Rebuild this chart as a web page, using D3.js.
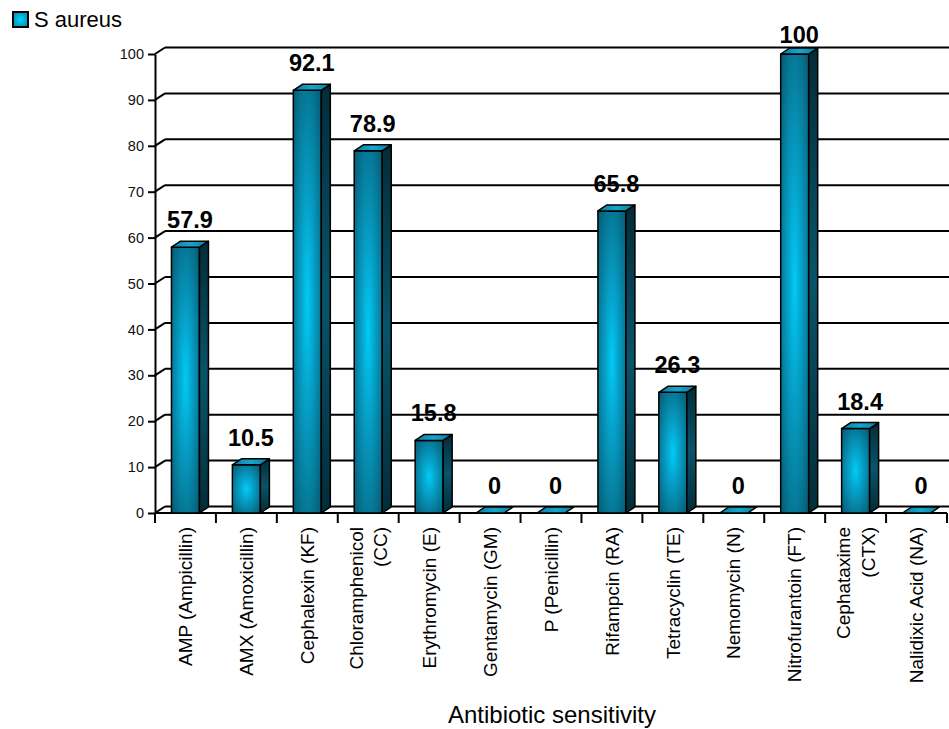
<!DOCTYPE html>
<html>
<head>
<meta charset="utf-8">
<script src="https://cdn.jsdelivr.net/npm/d3@7/dist/d3.min.js"></script>
<style>
  html, body { margin: 0; padding: 0; background: #fff; }
  svg { display: block; font-family: "Liberation Sans", Arial, sans-serif; }
</style>
</head>
<body>
<svg id="chart" width="949" height="729"></svg>
<script>
// Antibiotic sensitivity of S. aureus isolates (%)
const categories = [
  "AMP (Ampicillin)", "AMX (Amoxicillin)", "Cephalexin (KF)", "Chloramphenicol\n(CC)",
  "Erythromycin (E)", "Gentamycin (GM)", "P (Penicillin)", "Rifampcin (RA)",
  "Tetracyclin (TE)", "Nemomycin (N)", "Nitrofurantoin (FT)", "Cephataxime\n(CTX)",
  "Nalidixic Acid (NA)"
];
const values = [57.9, 10.5, 92.1, 78.9, 15.8, 0, 0, 65.8, 26.3, 0, 100, 18.4, 0];
const yTicks = [0, 10, 20, 30, 40, 50, 60, 70, 80, 90, 100];
const seriesName = "S aureus";
const xTitle = "Antibiotic sensitivity";

const svg = d3.select("#chart");
const defs = svg.append("defs");

// plot frame
const left = 155, right = 947, floorY = 513, topY = 54;
const wallDx = 10, wallDy = -6.5;      // depth of the back wall
const barDx = 9, barDy = -6;           // depth of each bar
const barW = 28;

const x = d3.scaleBand().domain(categories).range([left, right]).padding(0);
const y = d3.scaleLinear().domain([0, 100]).range([floorY, topY]);

// gradients for the bar faces
const front = defs.append("radialGradient").attr("id", "gFront")
  .attr("cx", 0.5).attr("cy", 0.5).attr("r", 0.66);
front.append("stop").attr("offset", "0%").attr("stop-color", "#00ccf6");
front.append("stop").attr("offset", "35%").attr("stop-color", "#06a2ca");
front.append("stop").attr("offset", "100%").attr("stop-color", "#065f78");

const side = defs.append("linearGradient").attr("id", "gSide")
  .attr("x1", 0).attr("y1", 0).attr("x2", 0).attr("y2", 1);
side.append("stop").attr("offset", "0%").attr("stop-color", "#032c38");
side.append("stop").attr("offset", "50%").attr("stop-color", "#09546a");
side.append("stop").attr("offset", "100%").attr("stop-color", "#032c38");

const topG = defs.append("linearGradient").attr("id", "gTop")
  .attr("x1", 0).attr("y1", 0).attr("x2", 1).attr("y2", 0);
topG.append("stop").attr("offset", "0%").attr("stop-color", "#0a7d9c");
topG.append("stop").attr("offset", "50%").attr("stop-color", "#16a6cc");
topG.append("stop").attr("offset", "100%").attr("stop-color", "#0a7d9c");

const legendG = defs.append("radialGradient").attr("id", "gLegend")
  .attr("cx", 0.5).attr("cy", 0.5).attr("r", 0.7);
legendG.append("stop").attr("offset", "0%").attr("stop-color", "#00d4ff");
legendG.append("stop").attr("offset", "100%").attr("stop-color", "#0780a0");

// back wall gridlines and the diagonals joining them to the axis
const grid = svg.append("g").attr("stroke", "#000").attr("stroke-width", 2).attr("fill", "none");
yTicks.forEach(t => {
  grid.append("line")
    .attr("x1", left + wallDx).attr("y1", y(t) + wallDy)
    .attr("x2", 949).attr("y2", y(t) + wallDy);
  grid.append("line")
    .attr("x1", left).attr("y1", y(t))
    .attr("x2", left + wallDx).attr("y2", y(t) + wallDy);
});
// floor front edge
grid.append("line").attr("x1", left).attr("y1", floorY).attr("x2", right).attr("y2", floorY);

// y axis
const yAxis = svg.append("g")
  .attr("transform", `translate(${left},0)`)
  .call(d3.axisLeft(y).tickValues(yTicks).tickSize(7).tickSizeOuter(0).tickPadding(4));
yAxis.selectAll("path, line").attr("stroke", "#000").attr("stroke-width", 2);
yAxis.selectAll("text").attr("font-size", 14.5).attr("fill", "#111")
  .attr("font-family", "'Liberation Sans', Arial, sans-serif");

// category boundary ticks under the floor
const bounds = d3.range(categories.length + 1).map(i => left + i * x.step());
svg.append("g").selectAll("line").data(bounds).join("line")
  .attr("x1", d => d).attr("x2", d => d)
  .attr("y1", floorY).attr("y2", floorY + 10)
  .attr("stroke", "#000").attr("stroke-width", 2);

// 3D bars
const bars = svg.append("g").selectAll("g").data(categories.map((c, i) => ({ c, v: values[i] })))
  .join("g")
  .attr("stroke", "#000").attr("stroke-width", 1.5).attr("stroke-linejoin", "round");

bars.each(function (d) {
  const g = d3.select(this);
  const x0 = x(d.c) + (x.bandwidth() - barW) / 2;
  const x1 = x0 + barW;
  const yt = y(d.v), yb = y(0);
  if (yb - yt > 0) {
    g.append("rect").attr("x", x0).attr("y", yt).attr("width", barW).attr("height", yb - yt)
      .attr("fill", "url(#gFront)");
    g.append("path")
      .attr("d", `M${x1},${yt}L${x1 + barDx},${yt + barDy}L${x1 + barDx},${yb + barDy}L${x1},${yb}Z`)
      .attr("fill", "url(#gSide)");
  }
  g.append("path")
    .attr("d", `M${x0},${yt}L${x0 + barDx},${yt + barDy}L${x1 + barDx},${yt + barDy}L${x1},${yt}Z`)
    .attr("fill", "url(#gTop)");
});

// value labels above the bars, kept inside the chart area
const labelTop = 43;
bars.append("text")
  .attr("x", d => x(d.c) + x.bandwidth() / 2 + barDx / 2)
  .attr("y", d => Math.max(y(d.v) + barDy - 13, labelTop))
  .attr("text-anchor", "middle")
  .attr("stroke", "none").attr("fill", "#000")
  .attr("font-size", 23.5).attr("font-weight", "bold")
  .text(d => d.v);

// rotated category labels
const catText = svg.append("g").selectAll("text").data(categories).join("text")
  .attr("transform", d => `translate(${x(d) + x.bandwidth() / 2},${floorY + 14}) rotate(-90)`)
  .attr("text-anchor", "end")
  .attr("font-size", 19).attr("fill", "#000");
catText.each(function (d) {
  const lines = d.split("\n");
  const t = d3.select(this);
  const lh = 1.3;
  lines.forEach((ln, i) => {
    t.append("tspan").attr("x", 0)
      .attr("dy", i === 0 ? `${0.35 - (lines.length - 1) * lh / 2}em` : `${lh}em`)
      .text(ln);
  });
});

// x axis title
svg.append("text")
  .attr("x", 552).attr("y", 723)
  .attr("text-anchor", "middle")
  .attr("font-size", 24).attr("fill", "#000")
  .text(xTitle);

// legend
svg.append("rect").attr("x", 13).attr("y", 12).attr("width", 15).attr("height", 15)
  .attr("fill", "url(#gLegend)").attr("stroke", "#000").attr("stroke-width", 2);
svg.append("text").attr("x", 34).attr("y", 27)
  .attr("font-size", 22).attr("fill", "#000")
  .text(seriesName);
</script>
</body>
</html>
